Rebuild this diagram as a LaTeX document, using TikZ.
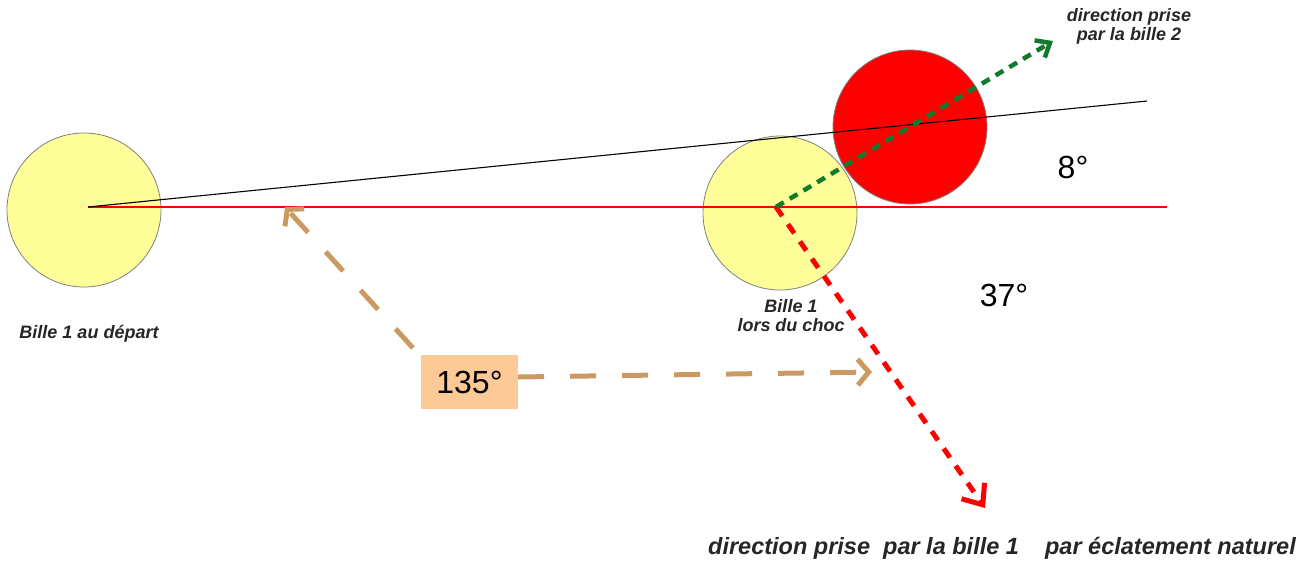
\documentclass[tikz,border=0pt]{standalone}
\usepackage{fontspec}
\setmainfont{Liberation Sans}
\usetikzlibrary{arrows.meta}
\definecolor{ballyellow}{HTML}{FFFF99}
\definecolor{ballred}{HTML}{FF0000}
\definecolor{rim}{HTML}{808080}
\definecolor{tan}{HTML}{CB9A62}
\definecolor{boxfill}{HTML}{FDC996}
\definecolor{darkgreen}{HTML}{127A2C}
\tikzset{
  ball/.style={circle, draw=rim, line width=0.8pt, minimum size=154pt, inner sep=0pt},
  lbl/.style={font=\fontsize{18}{19}\selectfont\bfseries\itshape, align=center, text=black!85},
  deg/.style={font=\fontsize{32}{36}\selectfont, text=black},
  tanarrow/.style={draw=tan, line width=5pt, dash pattern=on 26pt off 26pt, -{Straight Barb[length=11pt,width=26pt]}},
  redarrow/.style={draw=ballred, line width=5pt, dash pattern=on 11pt off 10pt, -{Straight Barb[length=17pt,width=28pt]}},
  greenarrow/.style={draw=darkgreen, line width=4.5pt, dash pattern=on 9pt off 7pt, -{Straight Barb[length=12pt,width=20pt]}},
}
\begin{document}
\begin{tikzpicture}[x=1pt,y=-1pt]
\useasboundingbox (0,0) rectangle (1312,565);
% balls
\node[ball, fill=ballyellow] (b0) at (84,210) {};
\node[ball, fill=ballyellow] (b1) at (780,213) {};
\node[ball, fill=ballred] (b2) at (910,127) {};
% reference points
\coordinate (c0) at (88,207);
\coordinate (c1) at (776,207);
\coordinate (redend) at (1167,207);
\coordinate (blackend) at (1147,101);
\coordinate (g2) at (1053,41);
\coordinate (r1) at (985,508);
\coordinate (t1) at (285,207);
\coordinate (t2) at (872,372);
% lines
\draw[draw=ballred, line width=1.2pt] (c0) -- (redend);
\draw[draw=black, line width=1.1pt] (c0) -- (blackend);
% labels
\node[lbl] (lb0) at (89,334) {Bille 1 au départ};
\node[lbl] (lb1) at (791,316) {Bille 1\\lors du choc};
\node[lbl] (lb2) at (1129,26) {direction prise\\par la bille 2};
\node[lbl, font=\fontsize{23.5}{26}\selectfont\bfseries\itshape] (lb3) at (1002,548) {direction prise\ \ par la bille 1\ \ \ \ par éclatement naturel};
\node[deg] (d8) at (1073,167) {8°};
\node[deg] (d37) at (1004,295) {37°};
\node[deg, fill=boxfill, minimum width=97pt, minimum height=54pt, inner sep=0pt] (box) at (469.5,382) {135°};
\coordinate (bs) at (413,348);
% arrows
\draw[redarrow] (c1) -- (r1);
\draw[greenarrow] (c1) -- (g2);
\draw[tanarrow] (bs) -- (t1);
\draw[tanarrow] ([yshift=5pt]box.east) -- (t2);
\end{tikzpicture}
\end{document}
